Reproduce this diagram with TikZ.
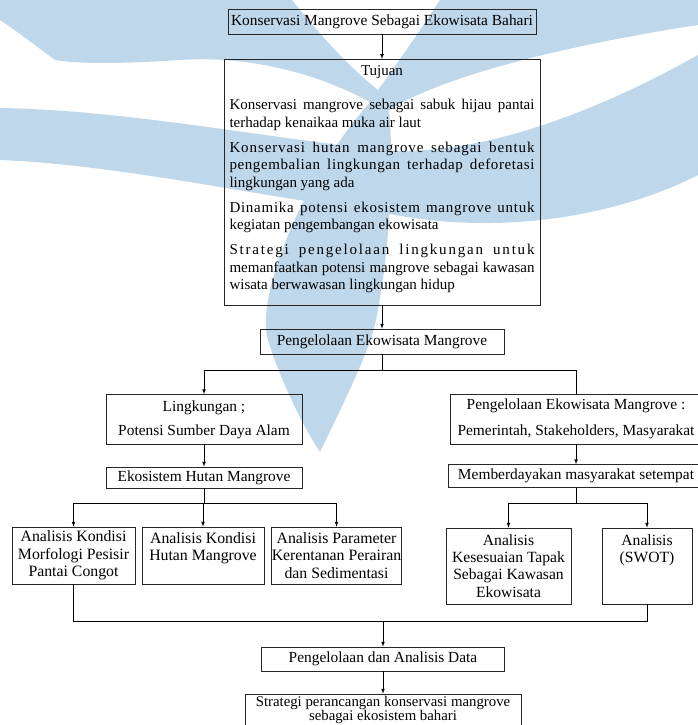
\documentclass[tikz,border=0pt]{standalone}
\usepackage{fontspec}
\setmainfont{Liberation Serif}

\definecolor{tanda}{RGB}{190,215,235}

\tikzset{
    kotak/.style={draw=black!85, line width=0.7pt, inner sep=0pt, align=center,
        font=\fontsize{15.4}{17.3}\selectfont},
    analisa/.style={kotak, minimum height=57pt, font=\fontsize{15.8}{17.6}\selectfont},
    kajian/.style={kotak, minimum height=76pt, font=\fontsize{15.6}{17.2}\selectfont},
    garis/.style={line width=0.7pt},
    panah/.style={garis, ->}
}
% letter spaced line inside the Tujuan box
\newcommand{\renggang}[2]{{\addfontfeature{LetterSpace=#1}#2}}

\begin{document}
\begin{tikzpicture}[x=1pt, y=-1pt, >=latex]
    \useasboundingbox (0,0) rectangle (698,725);
    \clip (0,0) rectangle (698,725);

    % Draw the watermark behind the chart
    \fill[tanda] (0,0) -- (292,0) .. controls (320,35) and (350,68) .. (378,90)
        .. controls (400,60) and (420,30) .. (440,0) -- (698,0) -- (698,25)
        .. controls (600,40) and (450,70) .. (386,112)
        .. controls (330,75) and (250,55) .. (180,60)
        .. controls (120,64) and (80,64) .. (55,60)
        .. controls (35,45) and (15,30) .. (0,20) -- cycle;
    \fill[tanda] (0,108) .. controls (120,110) and (250,135) .. (380,150)
        .. controls (480,158) and (600,110) .. (698,55) -- (698,175)
        .. controls (620,215) and (500,238) .. (380,212)
        .. controls (250,195) and (120,165) .. (0,160) -- cycle;
    \fill[tanda] (372,100) .. controls (300,180) and (255,300) .. (268,340)
        .. controls (280,380) and (305,430) .. (320,452)
        .. controls (345,400) and (370,350) .. (376,320)
        .. controls (390,250) and (395,160) .. (388,100) -- cycle;

    % Draw the boxes
    \node[kotak, minimum width=308pt, minimum height=25pt] (judul) at (382,21.5)
        {Konservasi Mangrove Sebagai Ekowisata Bahari};
    \node[kotak, anchor=north, inner xsep=5.5pt, inner ysep=4pt] (tujuan) at (382,59)
        {\parbox[t][238pt][t]{305pt}{\fontsize{15}{17.4}\selectfont
        \vspace*{2.5pt}{\centering Tujuan\par}\vspace{9pt}
        \setlength{\parskip}{7.7pt}\tolerance=10000
        Konservasi mangrove sebagai sabuk hijau pantai\linebreak
        terhadap kenaikaa muka air laut\par
        \renggang{6}{Konservasi hutan mangrove sebagai bentuk}\linebreak
        \renggang{4}{pengembalian lingkungan terhadap deforetasi}\linebreak
        lingkungan yang ada\par
        \renggang{5}{Dinamika potensi ekosistem mangrove untuk}\linebreak
        kegiatan pengembangan ekowisata\par
        \renggang{12}{Strategi pengelolaan lingkungan untuk}\linebreak
        memanfaatkan potensi mangrove sebagai kawasan\linebreak
        wisata berwawasan lingkungan hidup\par}};
    \node[kotak, minimum width=244pt, minimum height=25pt] (kelola) at (382,341.5)
        {Pengelolaan Ekowisata Mangrove};

    \node[kotak, minimum width=196pt, minimum height=50pt] (lingkungan) at (204,419.5)
        {Lingkungan ;\\[7pt]Potensi Sumber Daya Alam};
    \node[kotak, minimum width=252pt, minimum height=50pt] (pihak) at (576,419)
        {Pengelolaan Ekowisata Mangrove :\\[9.3pt]Pemerintah, Stakeholders, Masyarakat};
    \node[kotak, minimum width=196pt, minimum height=21pt] (ekosistem) at (204,477.5)
        {Ekosistem Hutan Mangrove};
    \node[kotak, minimum width=256pt, minimum height=23pt] (berdaya) at (576,476)
        {Memberdayakan masyarakat setempat};

    \node[analisa, minimum width=123pt] (morfologi) at (73.5,555.5)
        {Analisis Kondisi\\Morfologi Pesisir\\Pantai Congot};
    \node[analisa, minimum width=122pt] (hutan) at (203,555.5)
        {Analisis Kondisi\\Hutan Mangrove\\~};
    \node[analisa, minimum width=129pt] (perairan) at (336.5,555.5)
        {Analisis Parameter\\Kerentanan Perairan\\dan Sedimentasi};
    \node[kajian, minimum width=125pt] (tapak) at (508.5,566)
        {Analisis\\Kesesuaian Tapak\\Sebagai Kawasan\\Ekowisata};
    \node[kajian, minimum width=90pt] (swot) at (647,566)
        {Analisis\\(SWOT)\\~\\~};

    \node[kotak, minimum width=243pt, minimum height=24pt] (data) at (383,659)
        {Pengelolaan dan Analisis Data};
    \node[kotak, minimum width=276pt, minimum height=31.5pt,
        font=\fontsize{14.8}{14.2}\selectfont] (strategi) at (383,709.75)
        {Strategi perancangan konservasi mangrove\\sebagai ekosistem bahari};

    % Junctions of the branches
    \coordinate (cabang) at (382,370);
    \coordinate (cabangkiri) at (204,503);
    \coordinate (cabangkanan) at (576,503);
    \coordinate (gabung) at (383,621);

    % Draw the connectors
    \draw[panah] (judul) -- (tujuan);
    \draw[panah] (tujuan) -- (kelola);
    \draw[garis] (kelola) -- (cabang);
    \draw[panah] (cabang) -| (lingkungan);
    \draw[garis] (cabang) -| (pihak);
    \draw[panah] (lingkungan) -- (ekosistem);
    \draw[panah] (pihak) -- (berdaya);

    \draw[garis] (ekosistem) -- (cabangkiri);
    \foreach \b in {morfologi, hutan, perairan}
        \draw[panah] (cabangkiri) -| (\b);
    \draw[garis] (berdaya) -- (cabangkanan);
    \foreach \b in {tapak, swot}
        \draw[panah] (cabangkanan) -| (\b);

    \draw[garis] (morfologi) |- (gabung);
    \draw[garis] (swot) |- (gabung);
    \draw[panah] (gabung) -- (data);
    \draw[panah] (data) -- (strategi);
\end{tikzpicture}
\end{document}
